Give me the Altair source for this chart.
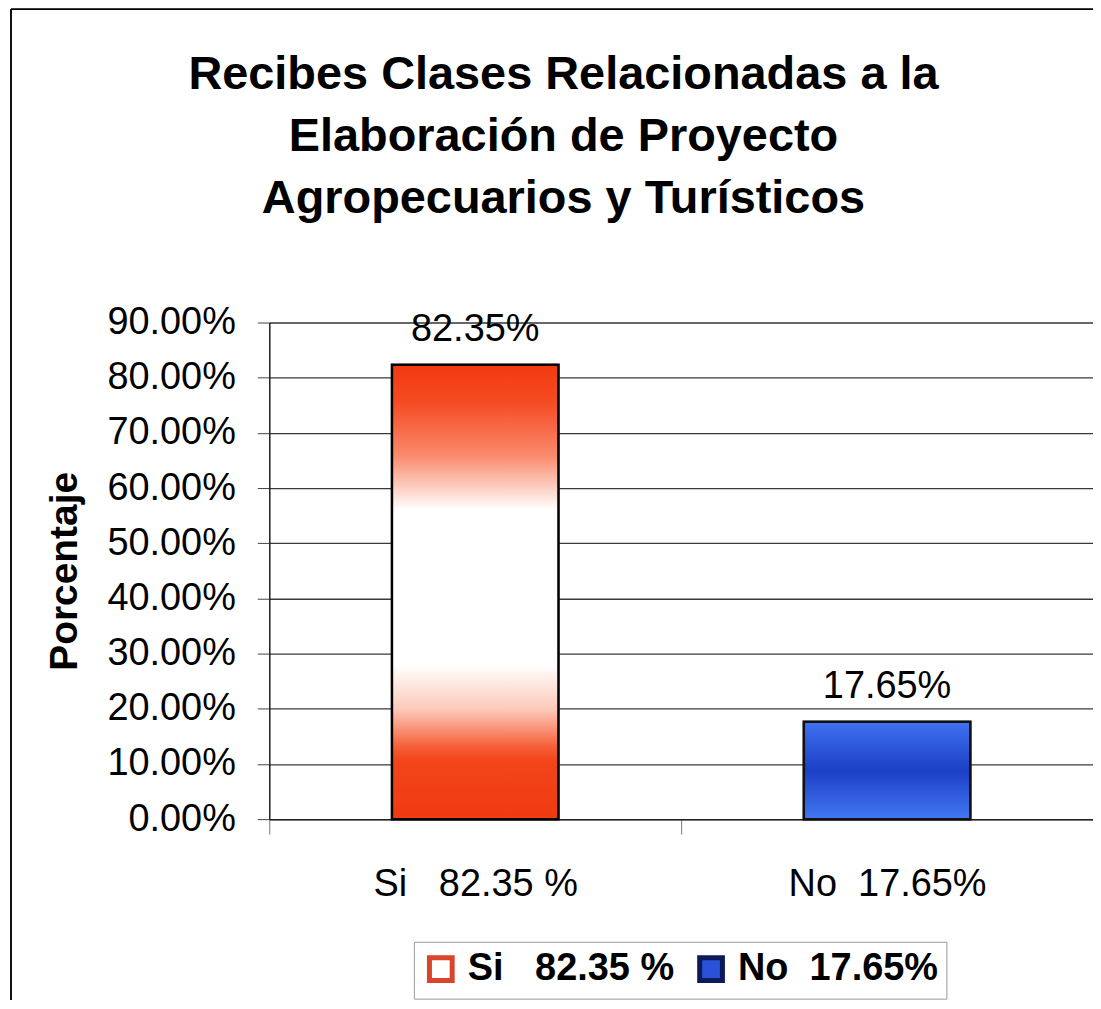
import altair as alt
import pandas as pd

NB = "\u00a0"
categories = ["Si" + NB * 3 + "82.35" + NB + "%", "No" + NB * 2 + "17.65%"]
values = [0.8235, 0.1765]
value_labels = ["82.35%", "17.65%"]
y_ticks = [0.0, 0.1, 0.2, 0.3, 0.4, 0.5, 0.6, 0.7, 0.8, 0.9]
title_lines = ["Recibes Clases Relacionadas a la", "Elaboración de Proyecto", "Agropecuarios y Turísticos"]

df = pd.DataFrame({"cat": categories, "val": values, "lab": value_labels})

FONT = "Liberation Sans"
W, H = 826, 498

x_enc = alt.X(
    "cat:N",
    sort=categories,
    scale=alt.Scale(domain=categories, paddingInner=0, paddingOuter=0),
    axis=alt.Axis(
        title=None, labelAngle=0, labelFontSize=38, labelFont=FONT, labelColor="black",
        tickBand="extent", tickSize=15, tickColor="#777", labelPadding=32, labelLimit=500,
        domainColor="#222", domainWidth=1.5,
    ),
)
y_enc = alt.Y(
    "val:Q",
    scale=alt.Scale(domain=[0, 0.9], nice=False),
    axis=alt.Axis(
        values=y_ticks, format=".2%", title="Porcentaje", titleFontSize=39, titleFont=FONT,
        titleFontWeight="bold", titleColor="black", titlePadding=22,
        labelFontSize=38, labelFont=FONT, labelColor="black", tickSize=12, tickColor="#444",
        labelPadding=22, gridColor="#3a3a3a", gridWidth=1.3, domainColor="#222", domainWidth=1.5,
    ),
)

legend_kw = dict(
    title=None, orient="none", legendX=145, legendY=621, direction="horizontal",
    strokeColor="#999", padding=8, fillColor="white",
    labelFontSize=38, labelFont=FONT, labelFontWeight="bold", labelColor="black",
    symbolType="square", symbolSize=520, symbolStrokeWidth=5,
    columnPadding=14, labelOffset=8, labelLimit=400,
)

base = alt.Chart(df)

legend_bars = base.mark_bar(width=167, strokeWidth=2).encode(
    x=x_enc,
    y=y_enc,
    fill=alt.Fill("cat:N", scale=alt.Scale(domain=categories, range=["#ffffff", "#2a52d8"]),
                  legend=alt.Legend(**legend_kw)),
    stroke=alt.Stroke("cat:N", scale=alt.Scale(domain=categories, range=["#d9442c", "#0d1a5a"]),
                      legend=alt.Legend(**legend_kw)),
)

red_grad = alt.LinearGradient(
    gradient="linear", x1=0, x2=0, y1=0, y2=1,
    stops=[
        alt.GradientStop(color="#f23a10", offset=0.0),
        alt.GradientStop(color="#f54a22", offset=0.08),
        alt.GradientStop(color="#f98a6c", offset=0.2),
        alt.GradientStop(color="#ffffff", offset=0.32),
        alt.GradientStop(color="#ffffff", offset=0.66),
        alt.GradientStop(color="#fcc8b8", offset=0.76),
        alt.GradientStop(color="#f6603a", offset=0.84),
        alt.GradientStop(color="#f2451a", offset=0.87),
        alt.GradientStop(color="#f03a10", offset=1.0),
    ],
)
blue_grad = alt.LinearGradient(
    gradient="linear", x1=0, x2=0, y1=0, y2=1,
    stops=[
        alt.GradientStop(color="#3f72f0", offset=0.0),
        alt.GradientStop(color="#1c3fc6", offset=0.5),
        alt.GradientStop(color="#4278f2", offset=1.0),
    ],
)

si_bar = base.transform_filter(alt.datum.cat == categories[0]).mark_bar(
    width=167, color=red_grad, stroke="black", strokeWidth=2.5
).encode(x=x_enc, y=y_enc)
no_bar = base.transform_filter(alt.datum.cat == categories[1]).mark_bar(
    width=167, color=blue_grad, stroke="#111", strokeWidth=2.5
).encode(x=x_enc, y=y_enc)

labels = base.mark_text(dy=-24, baseline="alphabetic", fontSize=38, font=FONT, color="black").encode(
    x=x_enc, y=y_enc, text="lab:N"
)

frame_left = alt.Chart(df).mark_rule(color="black", strokeWidth=1.5).encode(
    x=alt.value(-259), y=alt.value(-314), y2=alt.value(H + 200)
)
frame_top = alt.Chart(df).mark_rule(color="black", strokeWidth=1.5).encode(
    x=alt.value(-259), x2=alt.value(W + 20), y=alt.value(-314)
)

chart = alt.layer(legend_bars, si_bar, no_bar, labels, frame_left, frame_top).properties(
    width=W,
    height=H,
    padding={"left": 262, "top": 314, "right": 0, "bottom": 180},
    autosize=alt.AutoSizeParams(type="none"),
    title=alt.Title(
        title_lines, fontSize=47, font=FONT, fontWeight="bold", color="black",
        lineHeight=62, anchor="middle", frame="group", dx=-118, offset=0, dy=215,
        baseline="top",
    ),
).configure_view(
    fill="#dedde9", stroke="#555", strokeWidth=1.5
).configure(background="white")

chart.save("out.html", embed_options={"renderer": "svg", "actions": False})
